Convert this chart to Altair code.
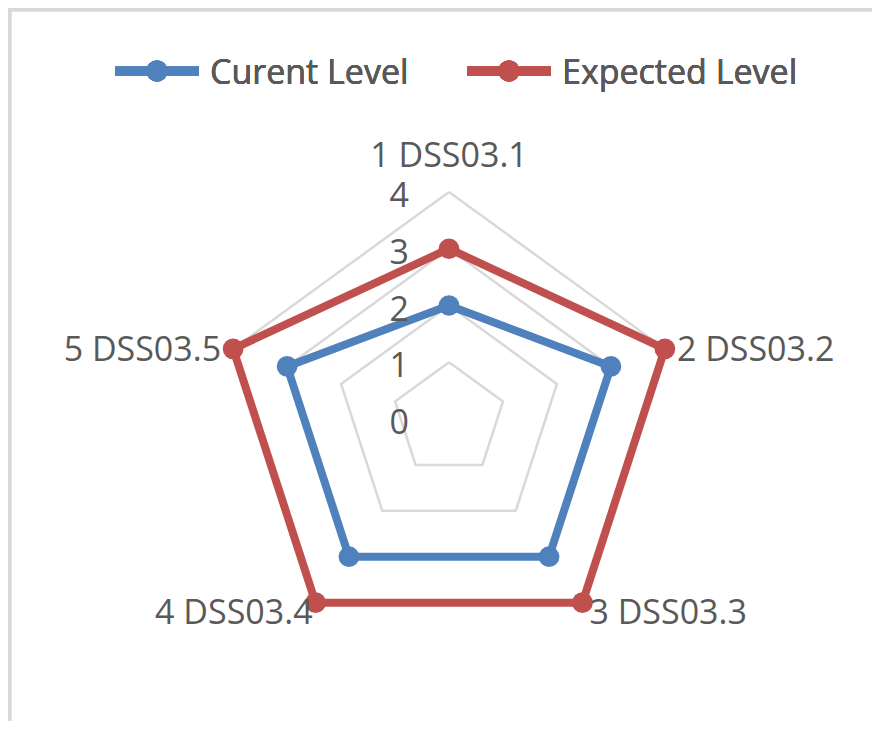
import altair as alt
import pandas as pd

# ---------------- data ----------------
categories = ["1 DSS03.1", "2 DSS03.2", "3 DSS03.3", "4 DSS03.4", "5 DSS03.5"]
current_level = [2, 3, 3, 3, 3]
expected_level = [3, 4, 4, 4, 4]
series_names = ["Curent Level", "Expected Level"]
series_colors = ["#4F81BD", "#C0504D"]
axis_ticks = [0, 1, 2, 3, 4]
grid_levels = [1, 2, 3, 4]

n = len(categories)
series_rows = []
for name, vals in zip(series_names, [current_level, expected_level]):
    for k in range(n + 1):
        series_rows.append({"series": name, "idx": k % n, "order": k, "value": vals[k % n]})
series_df = pd.DataFrame(series_rows)

grid_rows = []
for lv in grid_levels:
    for k in range(n + 1):
        grid_rows.append({"level": lv, "idx": k % n, "order": k, "value": lv})
grid_df = pd.DataFrame(grid_rows)

label_df = pd.DataFrame({"category": categories, "idx": list(range(n)),
                         "value": [max(axis_ticks)] * n})
tick_df = pd.DataFrame({"tick": axis_ticks})

# ---------------- layout ----------------
W, H = 864, 713
K = 56.75          # pixels per unit
CX, CY = 441, 411  # centre in chart coordinates
x_scale = alt.Scale(domain=[-CX / K, (W - CX) / K], nice=False, zero=False)
y_scale = alt.Scale(domain=[-(H - CY) / K, CY / K], nice=False, zero=False)

FONT = "Open Sans"
TXT = "#595959"
GRID = "#D9D9D9"
FS = 34

polar = {
    "px": "datum.value * sin(2 * PI * datum.idx / %d)" % n,
    "py": "datum.value * cos(2 * PI * datum.idx / %d)" % n,
}


def xy():
    return {
        "x": alt.X("px:Q", scale=x_scale, axis=None),
        "y": alt.Y("py:Q", scale=y_scale, axis=None),
    }


color_enc = alt.Color("series:N", scale=alt.Scale(domain=series_names, range=series_colors),
                      legend=None)

grid = alt.Chart(grid_df).transform_calculate(**polar).mark_line(
    color=GRID, strokeWidth=2.5, strokeJoin="miter"
).encode(**xy(), detail="level:N", order="order:Q")

lines = alt.Chart(series_df).transform_calculate(**polar).mark_line(
    strokeWidth=8, strokeJoin="round"
).encode(**xy(), color=color_enc, detail="series:N", order="order:Q")

points = alt.Chart(series_df).transform_filter(f"datum.order < {n}").transform_calculate(
    **polar
).mark_circle(size=430, opacity=1).encode(**xy(), color=color_enc)

ticks = alt.Chart(tick_df).transform_calculate(px="0", py="datum.tick").mark_text(
    align="right", baseline="alphabetic", dx=-40, dy=15, font=FONT, fontSize=FS, color=TXT
).encode(**xy(), text="tick:Q")


def cat_label(idx, align, dx, dy):
    return alt.Chart(label_df).transform_filter(f"datum.idx == {idx}").transform_calculate(
        **polar
    ).mark_text(
        align=align, baseline="alphabetic", dx=dx, dy=dy, font=FONT, fontSize=FS, color=TXT
    ).encode(**xy(), text="category:N")


labels = [
    cat_label(0, "center", 0, -25),
    cat_label(1, "left", 12, 12),
    cat_label(2, "left", 7, 21),
    cat_label(3, "right", -3, 21),
    cat_label(4, "right", -12, 12),
]

# manual legend (line with marker + name)
legend_layers = []
leg_x = [107, 459]
for i, (name, col) in enumerate(zip(series_names, series_colors)):
    x0 = leg_x[i]
    legend_layers.append(
        alt.Chart(tick_df).mark_rule(color=col, strokeWidth=9).encode(
            x=alt.value(x0), x2=alt.value(x0 + 84), y=alt.value(63))
    )
    legend_layers.append(
        alt.Chart(tick_df).mark_circle(color=col, size=450, opacity=1).encode(
            x=alt.value(x0 + 42), y=alt.value(63))
    )
    legend_layers.append(
        alt.Chart(tick_df).mark_text(
            align="left", baseline="alphabetic", font=FONT, fontSize=FS, color=TXT
        ).encode(x=alt.value(x0 + 95), y=alt.value(76), text=alt.value(name))
    )

# chart border (left and top)
frame = [
    alt.Chart(tick_df).mark_rule(color=GRID, strokeWidth=3.5).encode(
        x=alt.value(1.5), y=alt.value(0), y2=alt.value(H)),
    alt.Chart(tick_df).mark_rule(color=GRID, strokeWidth=3.5).encode(
        x=alt.value(0), x2=alt.value(W), y=alt.value(1.5)),
]

chart = alt.layer(
    *frame, grid, lines, points, ticks, *labels, *legend_layers
).properties(
    width=W, height=H, autosize=alt.AutoSizeParams(type="none"), padding=0
).configure_view(stroke=None).configure(background="white")

chart.save("out.html", embed_options={"renderer": "svg", "actions": False})
